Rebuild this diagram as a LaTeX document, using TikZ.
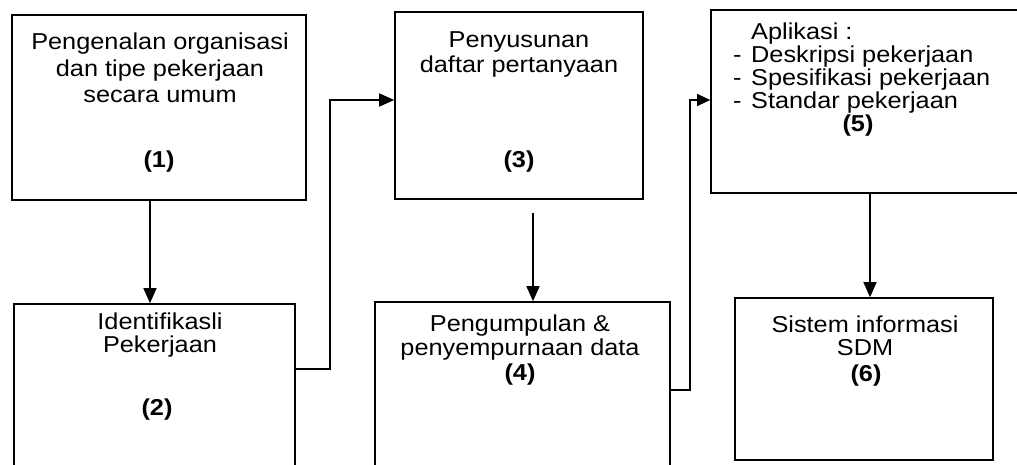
\documentclass[tikz,border=0pt]{standalone}
\usepackage{fontspec}
\setmainfont[FakeStretch=1.1]{Liberation Sans}
\usetikzlibrary{arrows.meta}
\begin{document}
\begin{tikzpicture}[x=1pt,y=-1pt,
  box/.style={draw,line width=1.6pt,inner sep=0pt},
  txt/.style={inner sep=0pt,align=center,anchor=north,font=\fontsize{23}{23.5}\selectfont},
  num/.style={inner sep=0pt,anchor=base,font=\fontsize{23}{26}\selectfont\bfseries},
  conn/.style={line width=1.3pt,-{Triangle[length=15pt,width=13pt]}}]
\useasboundingbox (0,0) rectangle (1017,465);
\clip (0,0) rectangle (1017,465);
% boxes
\node[box,minimum width=294pt,minimum height=185pt] (b1) at (159,107.5) {};
\node[box,minimum width=281pt,minimum height=200pt] (b2) at (154.5,404) {};
\node[box,minimum width=248pt,minimum height=187pt] (b3) at (519,105.5) {};
\node[box,minimum width=295pt,minimum height=200pt] (b4) at (522.5,402) {};
\node[box,minimum width=330pt,minimum height=183pt] (b5) at (876,101.5) {};
\node[box,minimum width=258pt,minimum height=162pt] (b6) at (864,379) {};
% texts
\node[txt,font=\fontsize{23}{26.5}\selectfont] (t1) at (160,33) {Pengenalan organisasi\\dan tipe pekerjaan\\secara umum};
\node[num] (n1) at (159,168) {(1)};
\node[txt,font=\fontsize{23}{22.5}\selectfont] (t2) at (160,313) {Identifikasli\\Pekerjaan};
\node[num] (n2) at (157,415) {(2)};
\node[txt,font=\fontsize{23}{25}\selectfont] (t3) at (519,31) {Penyusunan\\daftar pertanyaan};
\node[num] (n3) at (519,168) {(3)};
\node[txt] (t4) at (520,315) {Pengumpulan \&\\penyempurnaan data};
\node[num] (n4) at (520,380) {(4)};
\node[txt,align=left,anchor=north west,font=\fontsize{23}{23}\selectfont] (t5) at (733,23)
  {\makebox[18pt][l]{}Aplikasi :\\
   \makebox[18pt][l]{-}Deskripsi pekerjaan\\
   \makebox[18pt][l]{-}Spesifikasi pekerjaan\\
   \makebox[18pt][l]{-}Standar pekerjaan};
\node[num] (n5) at (858,132) {(5)};
\node[txt,font=\fontsize{23}{23}\selectfont] (t6) at (865,316) {Sistem informasi\\SDM};
\node[num] (n6) at (866,381) {(6)};
% connectors
\coordinate (c2a) at (330,369);
\coordinate (c2b) at (330,100);
\coordinate (c4a) at (690,390);
\coordinate (c4b) at (690,100);
\draw[conn] (b1.south -| 150,0) -- (b2.north -| 150,0);
\draw[conn] (b2.east |- c2a) -- (c2a) -- (c2b) -- (b3.west |- c2b);
\draw[conn] ([yshift=-13pt]b3.south -| 533,0) -- (b4.north -| 533,0);
\draw[conn,-{Triangle[length=13pt,width=12pt]}] (b4.east |- c4a) -- (c4a) -- (c4b) -- (b5.west |- c4b);
\draw[conn] (b5.south -| 870,0) -- (b6.north -| 870,0);
\end{tikzpicture}
\end{document}
